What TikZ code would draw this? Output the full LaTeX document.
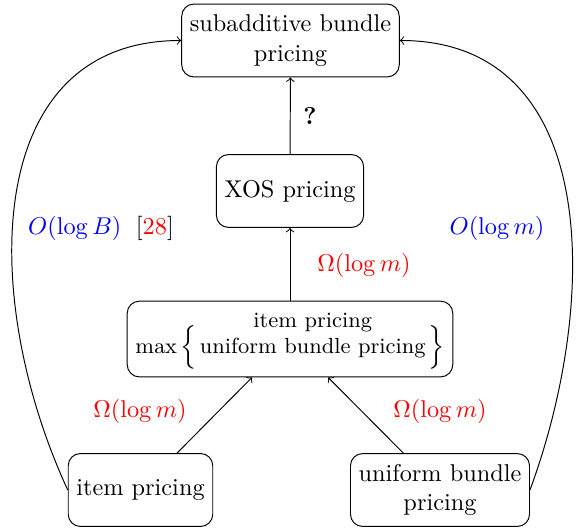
\documentclass[tikz,border=0pt]{standalone}
\usepackage{amsmath}
\newcommand{\bigbrL}{\mbox{\normalsize$\Big\{$}}
\newcommand{\bigbrR}{\mbox{\normalsize$\Big\}$}}
\begin{document}
\begin{tikzpicture}[x=0.4115pt,y=-0.4115pt,
  box/.style={draw, rounded corners=5pt, minimum height=30pt, align=center, inner sep=3.33pt},
  arr/.style={->},
  redlab/.style={text=red},
  bluelab/.style={text=blue}]
\useasboundingbox (0,0) rectangle (585,531);
\node[box] (top) at (290.5,40.5) {subadditive bundle\\pricing};
\node[box] (xos) at (290,191) {XOS pricing};
\node[box, font=\small, anchor=base] (max) at (290,353) {$\max\bigbrL\begin{tabular}[b]{@{\hspace{1.2pt}}c@{\hspace{1.2pt}}}item pricing\\[-0.7pt] uniform bundle pricing\end{tabular}\bigbrR$};
\node[box] (item) at (140.5,490) {item pricing};
\node[box] (unif) at (440,490) {uniform bundle\\pricing};

\draw[arr] (xos) -- (top);
\draw[arr] (max) -- (xos);
\draw[arr] (item) -- (max);
\draw[arr] (unif) -- (max);
\draw[arr] (item.west) .. controls +(-88,-190) and +(-201,0) .. (top.west);
\draw[arr] (unif.east) .. controls +(70,-190) and +(201,0) .. (top.east);

\node (q) at (310,116) {\textbf{?}};
\node[redlab] (l1) at (364,265) {$\Omega(\log m)$};
\node[redlab] (l2) at (140,411) {$\Omega(\log m)$};
\node[redlab] (l3) at (440,411) {$\Omega(\log m)$};
\node (l4) at (101,228) {\textcolor{blue}{$O(\log B)$}\hspace{6pt}[\textcolor{red}{28}]};
\node[bluelab] (l5) at (497,228) {$O(\log m)$};
\end{tikzpicture}
\end{document}
